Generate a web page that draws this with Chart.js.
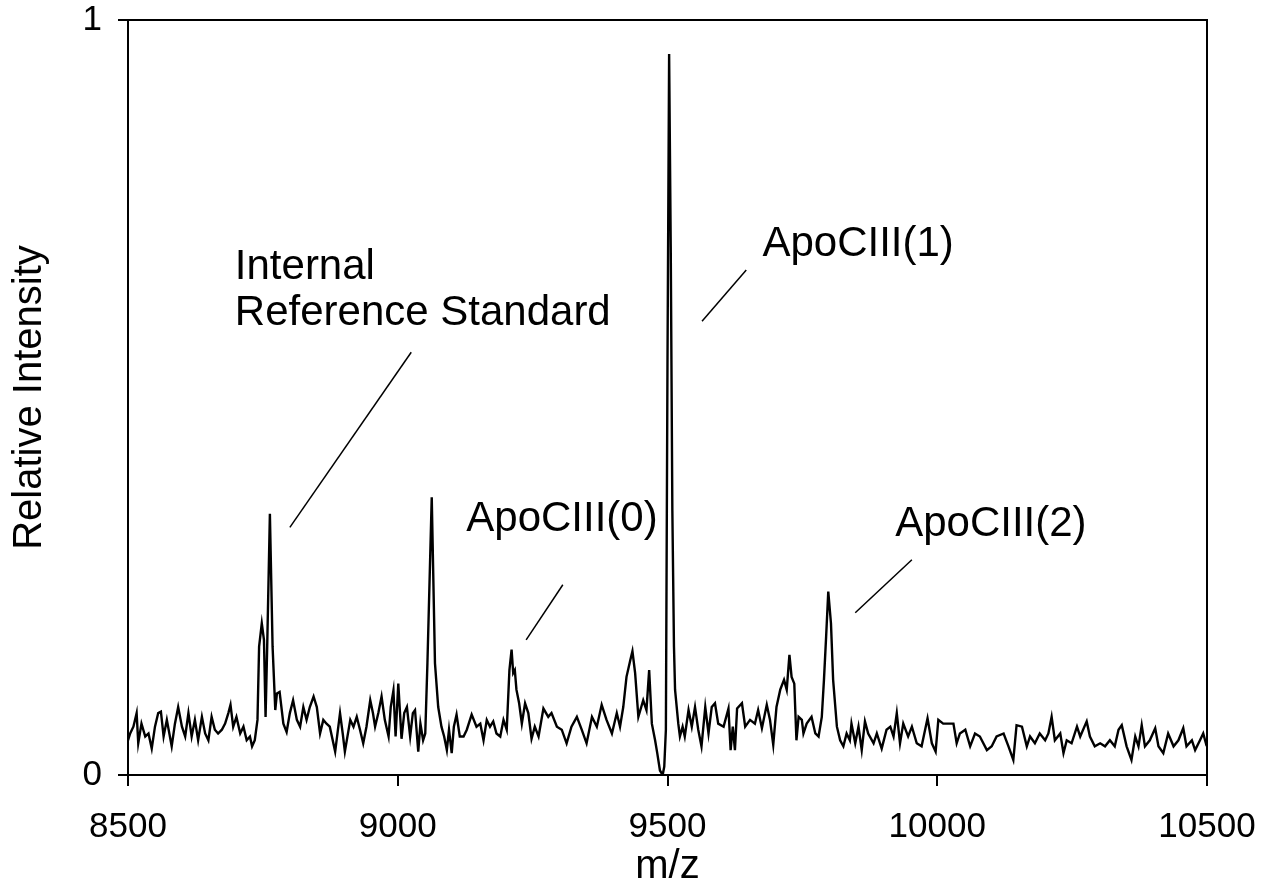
<!DOCTYPE html>
<html>
<head>
<meta charset="utf-8">
<script src="https://cdn.jsdelivr.net/npm/chart.js@4.4.1/dist/chart.umd.min.js"></script>
<style>
  html, body { margin: 0; padding: 0; background: #fff; }
  #wrap { width: 1262px; height: 891px; }
</style>
</head>
<body>
<div id="wrap"><canvas id="spectrum" width="1262" height="891"></canvas></div>
<script>
// m/z axis values and relative intensity
const mz = [
  8500, 8504, 8510, 8516, 8519, 8525, 8532, 8538, 8544, 8550, 8556, 8561, 8566, 8572, 8581, 8587, 8593,
  8600, 8606, 8612, 8618, 8624, 8630, 8637, 8643, 8649, 8655, 8661, 8667, 8674, 8680, 8686, 8690, 8695,
  8701, 8708, 8714, 8720, 8726, 8730, 8735, 8740, 8743, 8748, 8752, 8755, 8758, 8763, 8768, 8773, 8776,
  8781, 8788, 8794, 8800, 8806, 8813, 8819, 8825, 8831, 8837, 8844, 8850, 8856, 8862, 8868, 8874, 8884,
  8893, 8898, 8902, 8912, 8918, 8924, 8930, 8936, 8942, 8949, 8954, 8958, 8964, 8970, 8976, 8983, 8987,
  8992, 8996, 9001, 9007, 9012, 9017, 9023, 9028, 9032, 9038, 9042, 9047, 9051, 9055, 9063, 9069, 9075,
  9081, 9086, 9091, 9095, 9100, 9104, 9109, 9115, 9122, 9128, 9137, 9146, 9153, 9159, 9165, 9171, 9177,
  9183, 9190, 9196, 9202, 9207, 9211, 9214, 9217, 9220, 9225, 9230, 9236, 9242, 9248, 9254, 9261, 9270,
  9279, 9285, 9295, 9304, 9313, 9322, 9332, 9341, 9350, 9360, 9369, 9378, 9387, 9397, 9406, 9412, 9418,
  9424, 9431, 9435, 9440, 9446, 9455, 9461, 9466, 9471, 9477, 9481, 9486, 9491, 9494, 9497, 9500, 9503,
  9506, 9509, 9512, 9514, 9520, 9523, 9528, 9532, 9539, 9545, 9551, 9557, 9563, 9570, 9576, 9582, 9588,
  9594, 9604, 9613, 9617, 9621, 9625, 9629, 9638, 9644, 9653, 9662, 9668, 9675, 9684, 9690, 9696, 9702,
  9709, 9716, 9721, 9726, 9730, 9735, 9739, 9743, 9749, 9752, 9758, 9767, 9774, 9780, 9786, 9790, 9794,
  9798, 9803, 9807, 9814, 9820, 9826, 9832, 9838, 9841, 9848, 9854, 9860, 9866, 9872, 9882, 9888, 9897,
  9906, 9913, 9919, 9925, 9931, 9937, 9946, 9953, 9962, 9971, 9982, 9990, 9997, 10002, 10011, 10021, 10030,
  10036, 10042, 10052, 10061, 10070, 10079, 10092, 10101, 10110, 10123, 10132, 10141, 10147, 10157, 10166,
  10172, 10181, 10190, 10200, 10206, 10212, 10218, 10228, 10234, 10240, 10249, 10259, 10265, 10277, 10283,
  10292, 10302, 10311, 10320, 10329, 10336, 10342, 10351, 10360, 10367, 10373, 10379, 10385, 10394, 10404,
  10410, 10419, 10428, 10438, 10447, 10456, 10462, 10472, 10478, 10487, 10493, 10498, 10500
];
const intensity = [
  0.046, 0.055, 0.064, 0.082, 0.042, 0.068, 0.051, 0.055, 0.035, 0.064, 0.082, 0.084, 0.051, 0.073, 0.038, 0.068, 0.090,
  0.064, 0.051, 0.082, 0.051, 0.073, 0.046, 0.077, 0.055, 0.046, 0.077, 0.060, 0.055, 0.060, 0.068, 0.082, 0.093, 0.064,
  0.077, 0.055, 0.064, 0.046, 0.051, 0.038, 0.046, 0.073, 0.170, 0.201, 0.179, 0.077, 0.170, 0.346, 0.170, 0.086, 0.108,
  0.110, 0.068, 0.057, 0.082, 0.099, 0.073, 0.064, 0.090, 0.073, 0.090, 0.104, 0.090, 0.055, 0.073, 0.068, 0.064, 0.031,
  0.082, 0.055, 0.031, 0.073, 0.064, 0.077, 0.060, 0.042, 0.064, 0.099, 0.082, 0.064, 0.082, 0.104, 0.073, 0.051, 0.090,
  0.112, 0.051, 0.121, 0.048, 0.082, 0.090, 0.051, 0.082, 0.086, 0.031, 0.068, 0.046, 0.055, 0.148, 0.368, 0.148, 0.090,
  0.064, 0.051, 0.033, 0.060, 0.029, 0.064, 0.080, 0.051, 0.051, 0.060, 0.080, 0.064, 0.068, 0.046, 0.073, 0.064, 0.071,
  0.055, 0.051, 0.073, 0.060, 0.139, 0.166, 0.135, 0.139, 0.113, 0.095, 0.068, 0.095, 0.082, 0.048, 0.064, 0.051, 0.088,
  0.077, 0.082, 0.064, 0.060, 0.042, 0.064, 0.077, 0.060, 0.042, 0.077, 0.064, 0.093, 0.073, 0.055, 0.082, 0.064, 0.090,
  0.130, 0.152, 0.164, 0.135, 0.077, 0.099, 0.086, 0.139, 0.068, 0.046, 0.029, 0.006, 0.000, 0.011, 0.060, 0.550, 0.955,
  0.700, 0.350, 0.170, 0.113, 0.068, 0.051, 0.064, 0.051, 0.086, 0.064, 0.090, 0.060, 0.038, 0.090, 0.055, 0.090, 0.095,
  0.068, 0.064, 0.088, 0.033, 0.064, 0.033, 0.088, 0.095, 0.064, 0.073, 0.068, 0.086, 0.062, 0.093, 0.073, 0.040, 0.090,
  0.113, 0.126, 0.113, 0.159, 0.130, 0.121, 0.046, 0.077, 0.073, 0.055, 0.068, 0.077, 0.055, 0.051, 0.077, 0.126, 0.183,
  0.243, 0.201, 0.126, 0.064, 0.046, 0.038, 0.055, 0.046, 0.068, 0.042, 0.064, 0.033, 0.071, 0.055, 0.042, 0.055, 0.035,
  0.060, 0.064, 0.051, 0.082, 0.042, 0.068, 0.051, 0.064, 0.042, 0.038, 0.075, 0.042, 0.031, 0.073, 0.068, 0.068, 0.068,
  0.042, 0.055, 0.060, 0.038, 0.055, 0.051, 0.033, 0.038, 0.051, 0.055, 0.038, 0.020, 0.066, 0.064, 0.038,
  0.051, 0.042, 0.055, 0.046, 0.055, 0.077, 0.046, 0.055, 0.029, 0.046, 0.042, 0.064, 0.051, 0.071, 0.051,
  0.038, 0.042, 0.038, 0.046, 0.038, 0.060, 0.066, 0.038, 0.020, 0.051, 0.038, 0.066, 0.038, 0.046, 0.062,
  0.038, 0.029, 0.055, 0.038, 0.046, 0.062, 0.038, 0.046, 0.033, 0.046, 0.055, 0.042, 0.045
];

const xTicks = [8500, 9000, 9500, 10000, 10500];
const yTicks = [0, 1];

// peak labels (text anchored at m/z, intensity)
const labelText = ["Internal", "Reference Standard", "ApoCIII(0)", "ApoCIII(1)", "ApoCIII(2)"];
const labelMz = [8698, 8698, 9127, 9676, 9922];
const labelIntensity = [0.657, 0.596, 0.323, 0.687, 0.316];

// leader lines from labels to peaks
const calloutMz = [[8800, 9025], [9238, 9306], [9564, 9646], [9848, 9953]];
const calloutIntensity = [[0.328, 0.560], [0.179, 0.252], [0.601, 0.669], [0.215, 0.285]];

const FONT = "'Liberation Sans', Arial, sans-serif";

const datasets = [{
  data: mz.map((m, i) => ({ x: m, y: intensity[i] })),
  borderColor: "#000",
  borderWidth: 2.4,
  pointRadius: 0,
  tension: 0,
  fill: false,
}];
calloutMz.forEach((xs, k) => {
  datasets.push({
    data: xs.map((m, i) => ({ x: m, y: calloutIntensity[k][i] })),
    borderColor: "#000",
    borderWidth: 1.5,
    pointRadius: 0,
    fill: false,
  });
});

const frame = {
  id: "frame",
  afterDatasetsDraw(chart) {
    const { ctx, chartArea: a } = chart;
    ctx.save();
    ctx.strokeStyle = "#000";
    ctx.lineWidth = 2;
    ctx.strokeRect(a.left, a.top, a.right - a.left, a.bottom - a.top);
    ctx.restore();
  },
};

const peakLabels = {
  id: "peakLabels",
  afterDatasetsDraw(chart) {
    const { ctx, scales } = chart;
    ctx.save();
    ctx.fillStyle = "#000";
    ctx.font = "42px " + FONT;
    ctx.textAlign = "left";
    ctx.textBaseline = "alphabetic";
    labelText.forEach((t, i) => {
      ctx.fillText(t, scales.x.getPixelForValue(labelMz[i]), scales.y.getPixelForValue(labelIntensity[i]));
    });
    ctx.restore();
  },
};

// keep the plot box where the reference has it
function noEdgePadding(s) {
  s.paddingTop = 0;
  s.paddingBottom = 0;
  s.paddingLeft = 0;
  s.paddingRight = 0;
}

new Chart(document.getElementById("spectrum"), {
  type: "line",
  data: { datasets },
  plugins: [frame, peakLabels],
  options: {
    responsive: false,
    animation: false,
    devicePixelRatio: 1,
    layout: { padding: { left: 0, top: 20, right: 55, bottom: 0 } },
    plugins: { legend: { display: false }, tooltip: { enabled: false } },
    scales: {
      x: {
        type: "linear",
        min: xTicks[0],
        max: xTicks[xTicks.length - 1],
        afterBuildTicks: (s) => { s.ticks = xTicks.map((v) => ({ value: v })); },
        afterFit: (s) => { s.height = 116; noEdgePadding(s); },
        grid: { drawOnChartArea: false, drawTicks: true, tickLength: 11, color: "#000", lineWidth: 2 },
        border: { display: true, color: "#000", width: 2 },
        ticks: { color: "#000", padding: 20, maxRotation: 0, font: { family: FONT, size: 35 }, callback: (v) => String(v) },
        title: { display: true, text: "m/z", color: "#000", padding: { top: 4, bottom: 0 }, font: { family: FONT, size: 40 } },
      },
      y: {
        type: "linear",
        min: yTicks[0],
        max: yTicks[yTicks.length - 1],
        afterBuildTicks: (s) => { s.ticks = yTicks.map((v) => ({ value: v })); },
        afterFit: (s) => { s.width = 128; noEdgePadding(s); },
        grid: { drawOnChartArea: false, drawTicks: true, tickLength: 10, color: "#000", lineWidth: 2 },
        border: { display: true, color: "#000", width: 2 },
        ticks: { color: "#000", padding: 16, font: { family: FONT, size: 35 }, callback: (v) => String(v) },
        title: { display: true, text: "Relative Intensity", color: "#000", padding: { top: 6, bottom: 0 }, font: { family: FONT, size: 40 } },
      },
    },
  },
});
</script>
</body>
</html>
